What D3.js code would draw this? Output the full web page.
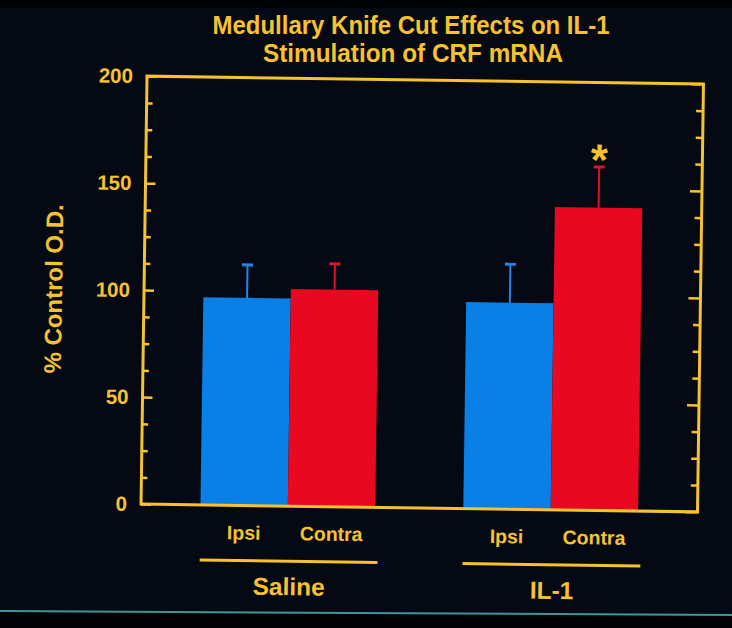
<!DOCTYPE html>
<html>
<head>
<meta charset="utf-8">
<script src="https://cdn.jsdelivr.net/npm/d3@7"></script>
<style>
  html, body { margin: 0; padding: 0; background: #050914; }
  svg { display: block; }
  text { font-family: "Liberation Sans", Arial, Helvetica, sans-serif; font-weight: bold; }
</style>
</head>
<body>
<svg id="chart" width="732" height="628"></svg>
<script>
// ---- data ----
const titleLines = ["Medullary Knife Cut Effects on IL-1", "Stimulation of CRF mRNA"];
const yLabel = "% Control O.D.";
const groups = ["Saline", "IL-1"];
const sides = ["Ipsi", "Contra"];
const ipsiMeans = [97, 96.5];
const contraMeans = [101.5, 141.5];
const ipsiSEM = [15.5, 18];
const contraSEM = [12, 19];
const yTicks = [0, 50, 100, 150, 200];
const significant = [[ "IL-1", "Contra" ]];

const W = 732, H = 628;
const yellow = "#f6c22e";
const colors = { Ipsi: "#0a7fe6", Contra: "#e8081f" };
const errColors = { Ipsi: "#2584e2", Contra: "#d8142b" };

const svg = d3.select("#chart");

// background and photo frame
svg.append("rect").attr("x", 0).attr("y", 0).attr("width", W).attr("height", H).attr("fill", "#050914");
svg.append("rect").attr("x", 0).attr("y", 0).attr("width", W).attr("height", 8).attr("fill", "#020306");
svg.append("path").attr("d", `M0,${H - 16} L${W},${H - 12} L${W},${H} L0,${H} Z`).attr("fill", "#020204");
svg.append("line").attr("x1", 0).attr("y1", 611).attr("x2", W).attr("y2", 615)
  .attr("stroke", "#3f9696").attr("stroke-width", 2);

// title (kept level)
const titleWidths = [397, 300];
svg.selectAll("text.title").data(titleLines).join("text")
  .attr("class", "title")
  .attr("x", (d, i) => i === 0 ? 411 : 413)
  .attr("y", (d, i) => 34 + i * 28)
  .attr("text-anchor", "middle")
  .attr("font-size", 25)
  .attr("textLength", (d, i) => titleWidths[i])
  .attr("lengthAdjust", "spacingAndGlyphs")
  .attr("fill", yellow)
  .text(d => d);

const L = 144, R = 700.5, T = 80, B = 508;
const g = svg.append("g").attr("transform", "rotate(0.8, 422, 294)");

const y = d3.scaleLinear().domain([0, 200]).range([B, T]);
const x0 = d3.scaleBand().domain(groups).range([L, R]).paddingInner(0.335).paddingOuter(0.226);
const x1 = d3.scaleBand().domain(sides).range([0, x0.bandwidth()]).padding(0);

const rows = [];
groups.forEach((grp, i) => {
  rows.push({ group: grp, side: "Ipsi", mean: ipsiMeans[i], sem: ipsiSEM[i] });
  rows.push({ group: grp, side: "Contra", mean: contraMeans[i], sem: contraSEM[i] });
});
const cx = d => x0(d.group) + x1(d.side) + x1.bandwidth() / 2;

// bars
g.selectAll("rect.bar").data(rows).join("rect")
  .attr("class", "bar")
  .attr("x", d => x0(d.group) + x1(d.side))
  .attr("width", x1.bandwidth())
  .attr("y", d => y(d.mean))
  .attr("height", d => y(0) - y(d.mean))
  .attr("fill", d => colors[d.side]);

// error bars
g.selectAll("line.err").data(rows).join("line")
  .attr("class", "err")
  .attr("x1", cx).attr("x2", cx)
  .attr("y1", d => y(d.mean)).attr("y2", d => y(d.mean + d.sem))
  .attr("stroke", d => errColors[d.side]).attr("stroke-width", 2);
g.selectAll("line.cap").data(rows).join("line")
  .attr("class", "cap")
  .attr("x1", d => cx(d) - 5.5).attr("x2", d => cx(d) + 5.5)
  .attr("y1", d => y(d.mean + d.sem)).attr("y2", d => y(d.mean + d.sem))
  .attr("stroke", d => errColors[d.side]).attr("stroke-width", 3);

// significance star
g.selectAll("text.star").data(rows.filter(d => significant.some(s => s[0] === d.group && s[1] === d.side))).join("text")
  .attr("class", "star")
  .attr("x", cx)
  .attr("y", d => y(d.mean + d.sem) + 8)
  .attr("text-anchor", "middle")
  .attr("font-size", 44)
  .attr("fill", yellow)
  .text("*");

// axes: left with labels
const majorTicks = yTicks;
const minorTicks = d3.range(0, 200.001, 12.5).filter(v => !majorTicks.includes(v));

const leftMajor = g.append("g").attr("transform", `translate(${L},0)`)
  .call(d3.axisLeft(y).tickValues(majorTicks).tickSize(-10).tickPadding(14).tickFormat(d3.format("d")));
const leftMinor = g.append("g").attr("transform", `translate(${L},0)`)
  .call(d3.axisLeft(y).tickValues(minorTicks).tickSize(-6).tickFormat(""));
const rightMajor = g.append("g").attr("transform", `translate(${R},0)`)
  .call(d3.axisRight(y).tickValues(majorTicks).tickSize(-12).tickFormat(""));
const rightMinor = g.append("g").attr("transform", `translate(${R},0)`)
  .call(d3.axisRight(y).tickValues(minorTicks).tickSize(-7).tickFormat(""));

[leftMajor, leftMinor, rightMajor, rightMinor].forEach(a => {
  a.select(".domain").remove();
  a.selectAll(".tick line").attr("stroke", yellow).attr("stroke-width", 2.5);
});
leftMajor.selectAll(".tick text")
  .attr("fill", yellow)
  .attr("font-size", 20.5)
  .attr("font-family", "'Liberation Sans', Arial, sans-serif")
  .attr("font-weight", "bold");

// frame
g.append("rect")
  .attr("x", L).attr("y", T).attr("width", R - L).attr("height", B - T)
  .attr("fill", "none").attr("stroke", yellow).attr("stroke-width", 3);

// y label
g.append("text")
  .attr("transform", `translate(62, ${(T + B) / 2}) rotate(-90)`)
  .attr("text-anchor", "middle")
  .attr("font-size", 24)
  .attr("fill", yellow)
  .text(yLabel);

// category labels
g.selectAll("text.side").data(rows).join("text")
  .attr("class", "side")
  .attr("x", cx)
  .attr("y", 542)
  .attr("text-anchor", "middle")
  .attr("font-size", 19.5)
  .attr("fill", yellow)
  .text(d => d.side);

// group underline & labels
g.selectAll("line.grp").data(groups).join("line")
  .attr("class", "grp")
  .attr("x1", d => x0(d)).attr("x2", d => x0(d) + x0.bandwidth() + 3)
  .attr("y1", 563).attr("y2", 563)
  .attr("stroke", yellow).attr("stroke-width", 3);
g.selectAll("text.grp").data(groups).join("text")
  .attr("class", "grp")
  .attr("x", d => x0(d) + x0.bandwidth() / 2 + 2)
  .attr("y", 597)
  .attr("text-anchor", "middle")
  .attr("font-size", 24.5)
  .attr("fill", yellow)
  .text(d => d);
</script>
</body>
</html>
